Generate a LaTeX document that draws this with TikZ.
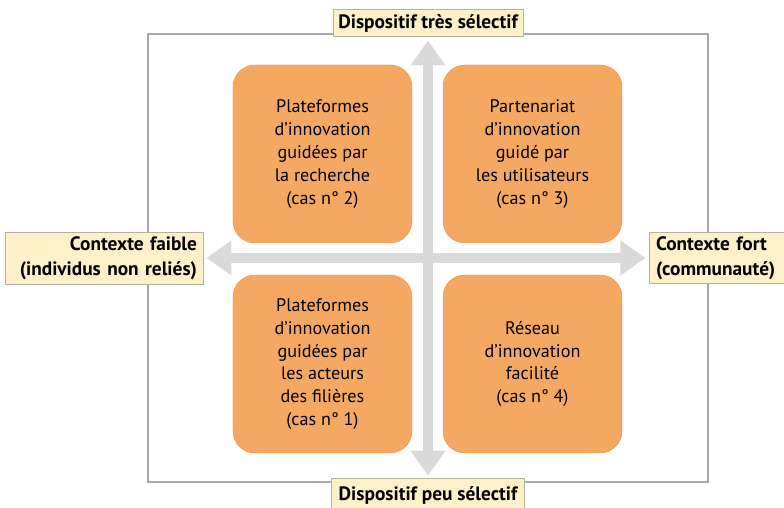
\documentclass[tikz,border=0pt]{standalone}
\usepackage{fontspec}
\setmainfont{PT Sans}
\usetikzlibrary{arrows.meta}
\definecolor{orangecase}{RGB}{245,168,98}
\definecolor{orangeedge}{RGB}{228,148,82}
\definecolor{creme}{RGB}{254,240,200}
\definecolor{cremeedge}{RGB}{184,176,158}
\definecolor{axisgray}{RGB}{217,217,217}
\definecolor{framegray}{RGB}{168,168,168}
\tikzset{
  casebox/.style={rectangle, rounded corners=0.66cm, minimum width=5.37cm, minimum height=5.34cm, align=center, draw=orangeedge, fill=orangecase, font=\fontsize{15.5}{19.5}\selectfont},
  pole/.style={rectangle, draw=cremeedge, fill=creme, line width=0.8pt, inner xsep=0.2cm, font=\bfseries\fontsize{16.5}{21}\selectfont},
  axis/.style={draw=axisgray, line width=0.3cm, {Triangle[length=0.75cm,width=1.0cm]}-{Triangle[length=0.75cm,width=1.0cm]}}
}

\begin{document}
\begin{tikzpicture}[x=0.03cm, y=0.03cm]
    \useasboundingbox (0,0) rectangle (784,508);

    % cadre
    \draw[framegray, line width=1.7pt] (148,26) rectangle (708,474);

    % les quatre cas
    \node[casebox] (recherche) at (322.5,354) {Plateformes\\d’innovation\\guidées par\\la recherche\\(cas n° 2)};
    \node[casebox] (utilisateurs) at (532.5,354) {Partenariat\\d’innovation\\guidé par\\les utilisateurs\\(cas n° 3)};
    \node[casebox] (filieres) at (322.5,144) {Plateformes\\d’innovation\\guidées par\\les acteurs\\des filières\\(cas n° 1)};
    \node[casebox] (reseau) at (532.5,144) {Réseau\\d’innovation\\facilité\\(cas n° 4)};

    % pôles des axes
    \node[pole, inner xsep=0.08cm, minimum width=5.7cm, minimum height=0.81cm] (tres) at (428,485) {Dispositif très sélectif};
    \node[pole, inner xsep=0.08cm, anchor=north, minimum width=5.8cm, minimum height=1.0cm] (peu) at (428,30) {Dispositif peu sélectif};
    \node[pole, text width=5.55cm, align=right, minimum height=1.56cm] (faible) at (104.5,250) {Contexte faible\\(individus non reliés)};
    \node[pole, anchor=west, text width=4.6cm, align=left, minimum height=1.52cm] (fort) at (649,250) {Contexte fort\\(communauté)};

    % axes
    \draw[axis, shorten <=2pt, shorten >=3pt] (faible.east) -- (fort.west);
    \draw[axis, shorten <=3pt, shorten >=2pt] (tres.south) -- (peu.north);

\end{tikzpicture}
\end{document}
